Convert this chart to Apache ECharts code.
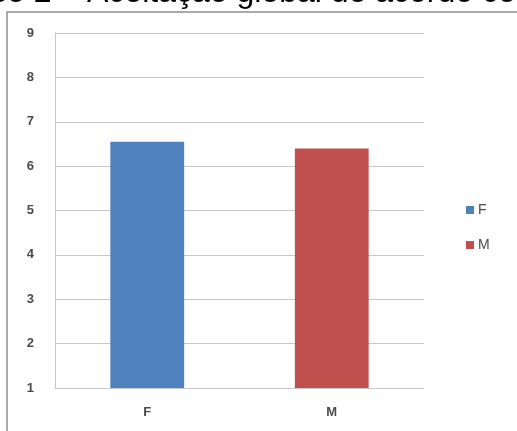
<!DOCTYPE html>
<html>
<head>
<meta charset="utf-8">
<style>
  html, body { margin: 0; padding: 0; background: #ffffff; }
  #chart { width: 517px; height: 431px; }
</style>
<script src="https://cdn.jsdelivr.net/npm/echarts@6/dist/echarts.min.js"></script>
</head>
<body>
<div id="chart"></div>
<script>
// Aceitação global por sexo
const categories = ['F', 'M'];
const seriesNames = ['F', 'M'];
const valuesF = [6.55, '-'];
const valuesM = ['-', 6.4];
const yTicks = [1, 2, 3, 4, 5, 6, 7, 8, 9];
const titleLead = 'Gráfico 2 – ';
const titleRest = 'Aceitação global de acordo com o sexo';

const chart = echarts.init(document.getElementById('chart'), null, { renderer: 'canvas' });

const labelColor = '#4a4a4a';
const gridColor = '#c6c6c6';
const labelFont = 'Liberation Sans, Arial, sans-serif';

chart.setOption({
  animation: false,
  backgroundColor: '#ffffff',
  grid: { left: 55, right: 93, top: 33, bottom: 43 },
  legend: {
    orient: 'vertical',
    left: 461,
    top: 198,
    itemWidth: 8,
    itemHeight: 8,
    itemGap: 21,
    icon: 'rect',
    textStyle: { color: labelColor, fontSize: 14, fontFamily: labelFont, padding: [0, 0, 0, -1] },
    data: seriesNames
  },
  xAxis: {
    type: 'category',
    data: categories,
    axisLine: { show: true, lineStyle: { color: gridColor, width: 1 } },
    axisTick: { show: false },
    axisLabel: { color: labelColor, fontSize: 13, fontWeight: 'bold', margin: 18, fontFamily: labelFont }
  },
  yAxis: {
    type: 'value',
    min: yTicks[0],
    max: yTicks[yTicks.length - 1],
    interval: 1,
    axisLine: { show: true, lineStyle: { color: gridColor, width: 1 } },
    axisTick: { show: false },
    splitLine: { show: true, lineStyle: { color: gridColor, width: 1 } },
    axisLabel: { color: labelColor, fontSize: 13, fontWeight: 'bold', margin: 21, fontFamily: labelFont }
  },
  series: [
    {
      name: seriesNames[0],
      type: 'bar',
      stack: 'sexo',
      barWidth: '40%',
      itemStyle: { color: '#4f81bd' },
      data: valuesF
    },
    {
      name: seriesNames[1],
      type: 'bar',
      stack: 'sexo',
      barWidth: '40%',
      itemStyle: { color: '#c0504d' },
      data: valuesM
    }
  ],
  graphic: [
    {
      type: 'rect',
      silent: true,
      z: 0,
      shape: { x: 7, y: 12, width: 700, height: 700 },
      style: { fill: 'none', stroke: '#8f8f8f', lineWidth: 1.5 }
    },
    {
      type: 'text',
      silent: true,
      z: 10,
      x: 87,
      y: 9,
      style: {
        text: titleLead,
        fill: '#000000',
        font: '32px "Liberation Sans", Arial, sans-serif',
        textAlign: 'right',
        textVerticalAlign: 'bottom'
      }
    },
    {
      type: 'text',
      silent: true,
      z: 10,
      x: 87,
      y: 9,
      style: {
        text: titleRest,
        fill: '#000000',
        font: '32px "Liberation Sans", Arial, sans-serif',
        textAlign: 'left',
        textVerticalAlign: 'bottom'
      }
    }
  ]
});
</script>
</body>
</html>
